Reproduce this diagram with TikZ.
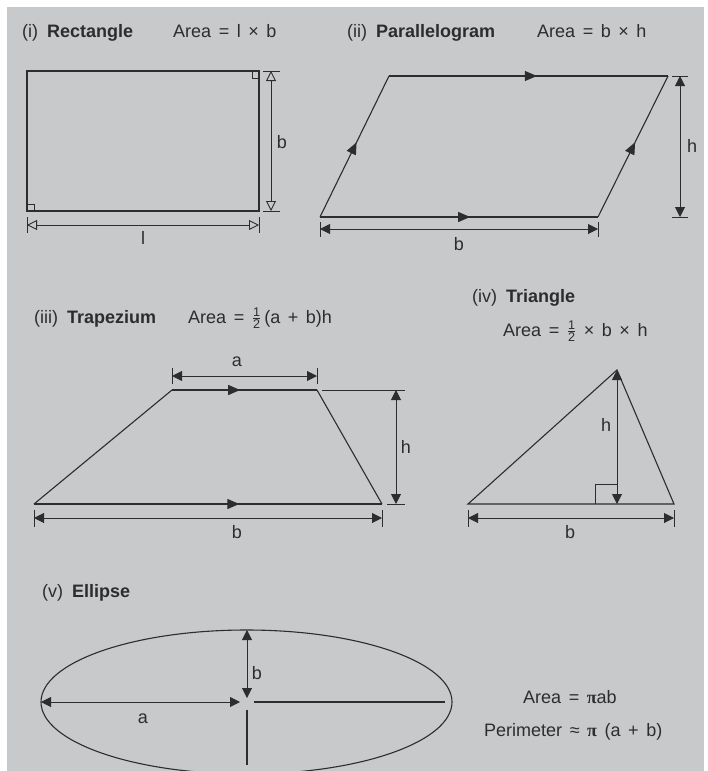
\documentclass[tikz,border=0pt]{standalone}
\usepackage{amsmath}
\usepackage{fontspec}
\setmainfont{Liberation Sans}
\newfontfamily\pifont{Liberation Serif}
\usetikzlibrary{arrows.meta, decorations.markings}

\definecolor{panelgray}{RGB}{200,201,203}
\definecolor{inkgray}{RGB}{45,45,45}

\newcommand{\half}{\ensuremath{\frac{\text{1}}{\text{2}}}}
\newcommand{\opgap}{\hspace{0.42em}}

\tikzset{
    shape line/.style={line width=1.1pt, color=inkgray},
    tick line/.style={line width=0.9pt, color=inkgray},
    dim line/.style={line width=1pt, color=inkgray,
        {Triangle[length=10pt,width=10pt]}-{Triangle[length=10pt,width=10pt]}},
    open dim/.style={line width=0.9pt, color=inkgray,
        {Triangle[open,length=10pt,width=10pt]}-{Triangle[open,length=10pt,width=10pt]}},
    mid arrow/.style={postaction={decorate}, decoration={markings,
        mark=at position #1 with {\arrow{Triangle[length=12pt,width=10pt]}}}},
    mid arrow/.default=0.5,
    dimtext/.style={text=inkgray, font=\fontsize{18}{22}\selectfont, inner sep=0pt},
    heading/.style={dimtext, anchor=base west}
}

\begin{document}
\begin{tikzpicture}[x=1pt, y=-1pt]
        \useasboundingbox (0,0) rectangle (707,771);
        \fill[panelgray] (7,7) rectangle (704,771);

        % (i) rectangle
        \node[heading] (t1) at (22,37) {(i)\enspace\textbf{Rectangle}};
        \node[heading] (f1) at (173,37) {Area\opgap=\opgap l\opgap×\opgap b};
        \draw[shape line] (27,71) rectangle (259,211);
        \draw[tick line] (252,71) |- (259,78);
        \draw[tick line] (27,204) -| (34,211);
        \draw[open dim] (271,71) -- (271,211);
        \draw[tick line] (263,71) -- (280,71) (263,211) -- (280,211);
        \draw[open dim] (27,225) -- (259,225);
        \draw[tick line] (27,217) -- (27,233) (259,217) -- (259,233);
        \node[dimtext] (b1) at (282,142) {b};
        \node[dimtext] (l1) at (143,238) {l};

        % (ii) parallelogram
        \node[heading] (t2) at (347,37) {(ii)\enspace\textbf{Parallelogram}};
        \node[heading] (f2) at (537,37) {Area\opgap=\opgap b\opgap×\opgap h};
        \draw[shape line, mid arrow=0.54] (320,217) -- (598,217);
        \draw[shape line, mid arrow=0.53] (389,76) -- (668,76);
        \draw[shape line, mid arrow=0.53] (320,217) -- (389,76);
        \draw[shape line, mid arrow=0.53] (598,217) -- (668,76);
        \draw[dim line] (680,76) -- (680,217);
        \draw[tick line] (672,76) -- (688,76) (672,217) -- (688,217);
        \draw[dim line] (320,229) -- (598,229);
        \draw[tick line] (320,222) -- (320,237) (598,222) -- (598,237);
        \node[dimtext] (h2) at (692,146) {h};
        \node[dimtext] (b2) at (459,244) {b};

        % (iii) trapezium
        \node[heading] (t3) at (34,323) {(iii)\enspace\textbf{Trapezium}};
        \node[heading] (f3) at (188,323) {Area\opgap=\opgap\half\,(a\opgap+\opgap b)h};
        \draw[shape line] (172,390) -- (34,504);
        \draw[shape line] (317,390) -- (382,504);
        \draw[shape line, mid arrow=0.47] (172,390) -- (317,390);
        \draw[shape line, mid arrow=0.59] (34,504) -- (382,504);
        \draw[dim line] (172,376) -- (317,376);
        \draw[tick line] (172,368) -- (172,384) (317,368) -- (317,384);
        \draw[dim line] (396,390) -- (396,504);
        \draw[tick line] (322,390) -- (405,390) (387,504) -- (405,504);
        \draw[dim line] (34,518) -- (382,518);
        \draw[tick line] (34,510) -- (34,527) (382,510) -- (382,527);
        \node[dimtext] (a3) at (237,362) {a};
        \node[dimtext] (h3) at (406,447) {h};
        \node[dimtext] (b3) at (237,532) {b};

        % (iv) triangle
        \node[heading] (t4) at (472,302) {(iv)\enspace\textbf{Triangle}};
        \node[heading] (f4) at (503,336) {Area\opgap=\opgap\half\opgap×\opgap b\opgap×\opgap h};
        \draw[shape line] (468,504) -- (617,370) -- (674,504) -- cycle;
        \draw[dim line] (617,370) -- (617,504);
        \draw[tick line] (595,504) |- (617,484);
        \draw[dim line] (468,518) -- (674,518);
        \draw[tick line] (468,510) -- (468,527) (674,510) -- (674,527);
        \node[dimtext] (h4) at (606,425) {h};
        \node[dimtext] (b4) at (570,532) {b};

        % (v) ellipse
        \node[heading] (t5) at (42,597) {(v)\enspace\textbf{Ellipse}};
        \draw[shape line] (246.5,702) ellipse [x radius=205.5pt, y radius=72pt];
        \draw[dim line] (41,702) -- (240,702);
        \draw[dim line] (247,630) -- (247,698);
        \draw[shape line] (254,702) -- (445,702);
        \draw[shape line] (247,710) -- (247,765);
        \node[dimtext] (a5) at (143,719) {a};
        \node[dimtext] (b5) at (257,673) {b};
        \node[heading] (f5) at (523,703) {Area\opgap=\opgap{\pifont\bfseries π}ab};
        \node[heading] (p5) at (484,736) {Perimeter\opgap≈\opgap{\pifont\bfseries π}\opgap(a\opgap+\opgap b)};
        \end{tikzpicture}
\end{document}
